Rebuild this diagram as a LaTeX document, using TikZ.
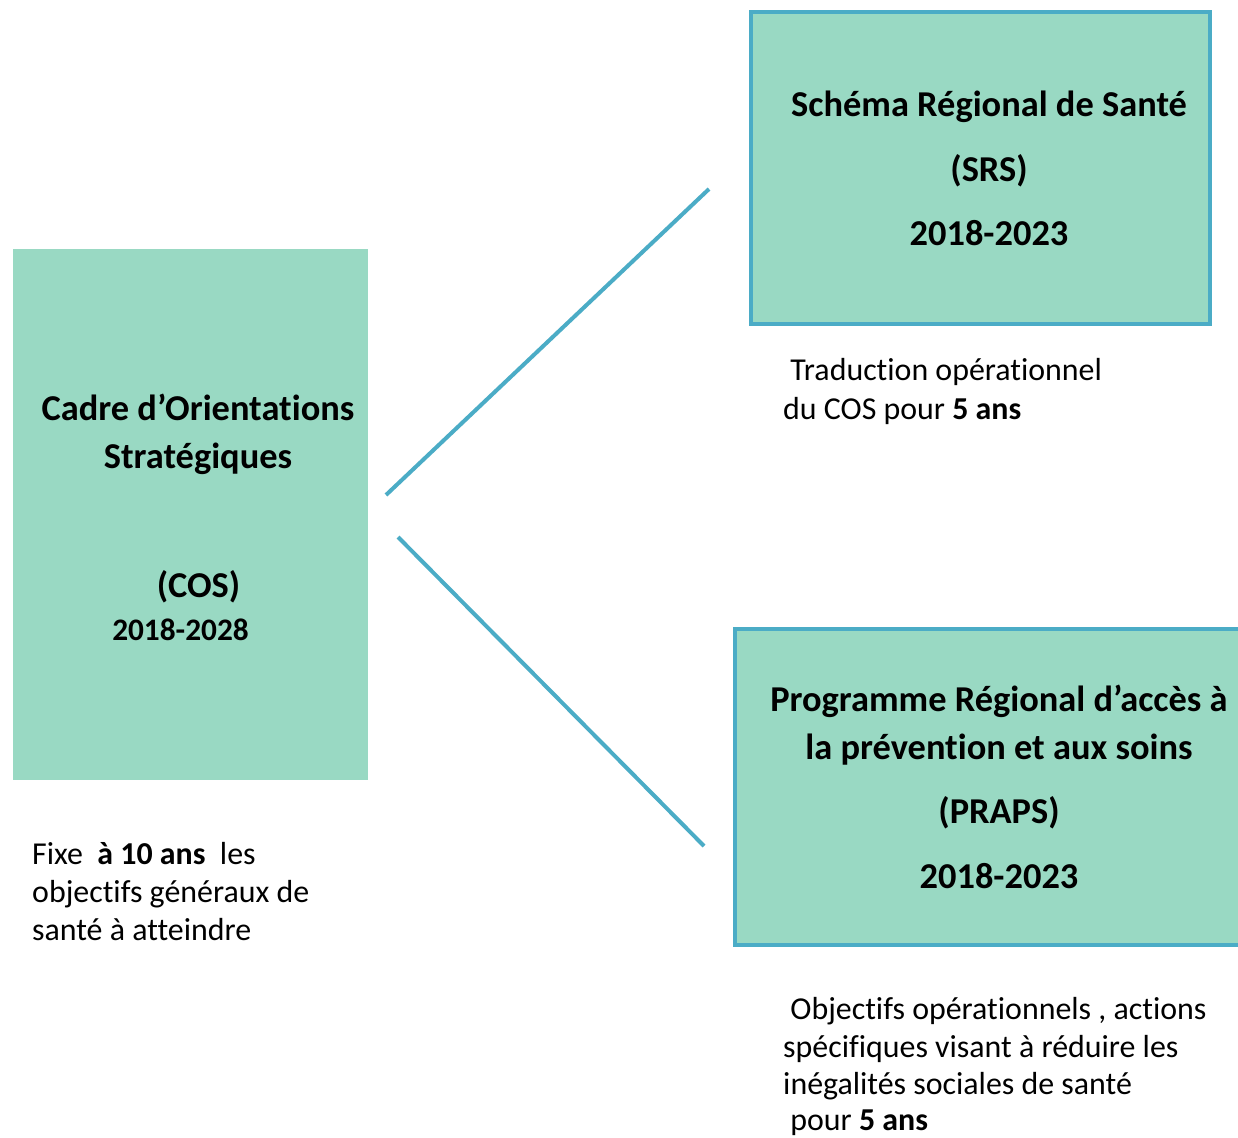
\documentclass[tikz,border=0pt]{standalone}
\usepackage{fontspec}
\setmainfont[Ligatures=NoCommon]{Carlito}
\definecolor{boxfill}{HTML}{99D9C3}
\definecolor{boxline}{HTML}{4BACC6}
\begin{document}
\begin{tikzpicture}[x=1pt,y=-1pt,
  titlefont/.style={font=\fontsize{36.4}{43}\selectfont\bfseries},
  yearfont/.style={font=\fontsize{31.3}{38}\selectfont\bfseries},
  bodyfont/.style={font=\fontsize{31.9}{38.5}\selectfont},
  tline/.style={inner sep=0pt,anchor=base},
  bline/.style={inner sep=0pt,anchor=base west,bodyfont},
  panel/.style={fill=boxfill,draw=boxline,line width=4pt,inner sep=0pt},
  link/.style={draw=boxline,line width=4pt}]
\useasboundingbox (0,0) rectangle (1238,1137);
\fill[white] (0,0) rectangle (1238,1137);

% boxes
\node[fill=boxfill,inner sep=0pt,minimum width=355pt,minimum height=531pt] (cos) at (190.5,514.5) {};
\node[panel,minimum width=459pt,minimum height=312pt] (srs) at (980.5,168) {};
\node[panel,minimum width=515pt,minimum height=316pt] (praps) at (992.5,787) {};

% COS text
\node[tline,titlefont] (cos1) at (198,420) {Cadre d’Orientations};
\node[tline,titlefont] (cos2) at (198,468) {Stratégiques};
\node[tline,titlefont] (cos3) at (198.5,597) {(COS)};
\node[tline,yearfont] (cos4) at (180.5,640) {2018-2028};

% SRS text
\node[tline,titlefont] (srs1) at (989,117) {Schéma Régional de Santé};
\node[tline,titlefont] (srs2) at (989,181) {(SRS)};
\node[tline,titlefont] (srs3) at (989,245) {2018-2023};

% PRAPS text
\node[tline,titlefont] (pr1) at (999,711) {Programme Régional d’accès à};
\node[tline,titlefont] (pr2) at (999,759) {la prévention et aux soins};
\node[tline,titlefont] (pr3) at (999,823) {(PRAPS)};
\node[tline,titlefont] (pr4) at (999,888) {2018-2023};

% captions
\node[bline] (c1a) at (32,864) {Fixe\ \ \textbf{à 10 ans}\ \ les};
\node[bline] (c1b) at (32,902) {objectifs généraux de};
\node[bline] (c1c) at (32,940) {santé à atteindre};

\node[bline] (c2a) at (783,380) {\ Traduction opérationnel};
\node[bline] (c2b) at (783,419) {du COS pour \textbf{5 ans}};

\node[bline] (c3a) at (783,1019) {\ Objectifs opérationnels , actions};
\node[bline] (c3b) at (783,1057) {spécifiques visant à réduire les};
\node[bline] (c3c) at (783,1094) {inégalités sociales de santé};
\node[bline] (c3d) at (783,1130) {\ pour \textbf{5 ans}};

% connectors
\coordinate (up0) at (386,495);
\coordinate (up1) at (709,189);
\coordinate (dn0) at (398,537);
\coordinate (dn1) at (704,846);
\draw[link] (up0) -- (up1);
\draw[link] (dn0) -- (dn1);
\end{tikzpicture}
\end{document}
